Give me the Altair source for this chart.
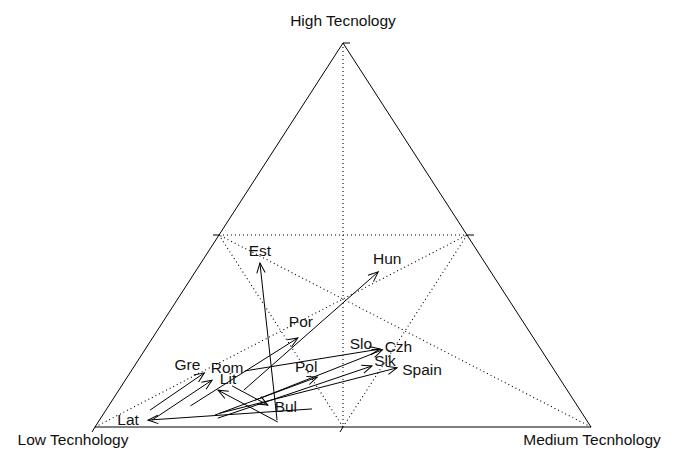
import math
import altair as alt
import pandas as pd

# ---- data: technology shares (low, medium, high) at start and end -------
countries = ["Est", "Hun", "Por", "Gre", "Rom", "Lit", "Lat", "Bul",
             "Pol", "Slo", "Czh", "Slk", "Spain"]
low_start  = [0.624, 0.652, 0.780, 0.867, 0.876, 0.625, 0.539, 0.670,
              0.743, 0.625, 0.642, 0.741, 0.730]
med_start  = [0.358, 0.252, 0.165, 0.089, 0.106, 0.362, 0.414, 0.223,
              0.226, 0.229, 0.288, 0.236, 0.234]
high_start = [0.018, 0.096, 0.055, 0.044, 0.018, 0.013, 0.047, 0.107,
              0.031, 0.146, 0.070, 0.023, 0.036]
low_end    = [0.454, 0.227, 0.475, 0.709, 0.703, 0.704, 0.884, 0.623,
              0.487, 0.324, 0.320, 0.362, 0.314]
med_end    = [0.119, 0.369, 0.293, 0.150, 0.175, 0.200, 0.098, 0.320,
              0.383, 0.473, 0.479, 0.479, 0.532]
high_end   = [0.427, 0.404, 0.232, 0.141, 0.122, 0.096, 0.018, 0.057,
              0.130, 0.203, 0.201, 0.159, 0.154]

vertex_names = ["Low Tecnhology", "Medium Tecnhology", "High Tecnology"]

# ---- layout / style ----------------------------------------------------
W, H = 496, 384
FONT = "Liberation Sans"
FS = 15.5
label_dx = [0, 9, 3, -17, 15, 10, -20, 18, -11, -19, 16, 13, 25]
label_dy = [-12, -13, -16, -8, -12, -11, 0, 2, -10, -5, -3, -5, 2]


def tern(low, med, high):
    # x along the base (Low -> Medium), y toward the High apex
    return med + high / 2.0, high


rows = []
for i, c in enumerate(countries):
    x1, y1 = tern(low_start[i], med_start[i], high_start[i])
    x2, y2 = tern(low_end[i], med_end[i], high_end[i])
    ang = math.degrees(math.atan2(-(y2 - y1) * H, (x2 - x1) * W)) % 360
    rows.append(dict(country=c, x1=x1, y1=y1, x2=x2, y2=y2, angle=ang,
                     lx=x2 + label_dx[i] / W, ly=y2 - label_dy[i] / H))
arrows = pd.DataFrame(rows)

# triangle vertices and edge midpoints
V = {"L": tern(1, 0, 0), "M": tern(0, 1, 0), "H": tern(0, 0, 1)}
mid = lambda a, b: ((V[a][0] + V[b][0]) / 2, (V[a][1] + V[b][1]) / 2)
mLH, mMH, mLM = mid("L", "H"), mid("M", "H"), mid("L", "M")

edges = pd.DataFrame([
    dict(x=V["L"][0], y=V["L"][1], x2=V["M"][0], y2=V["M"][1]),
    dict(x=V["M"][0], y=V["M"][1], x2=V["H"][0], y2=V["H"][1]),
    dict(x=V["H"][0], y=V["H"][1], x2=V["L"][0], y2=V["L"][1]),
])
grid = pd.DataFrame([
    dict(x=mLH[0], y=mLH[1], x2=mMH[0], y2=mMH[1]),
    dict(x=mMH[0], y=mMH[1], x2=mLM[0], y2=mLM[1]),
    dict(x=mLM[0], y=mLM[1], x2=mLH[0], y2=mLH[1]),
    dict(x=V["H"][0], y=V["H"][1], x2=mLM[0], y2=mLM[1]),
    dict(x=V["L"][0], y=V["L"][1], x2=mMH[0], y2=mMH[1]),
    dict(x=V["M"][0], y=V["M"][1], x2=mLH[0], y2=mLH[1]),
])
tick_pts = [(mLH, (-6, 0)), (mMH, (7, 0)), (V["H"], (7, 0)),
            (mLM, (-3, 5)), (V["L"], (-3, 5))]
ticks = pd.DataFrame([dict(x=p[0], y=p[1], x2=p[0] + d[0] / W,
                           y2=p[1] - d[1] / H) for p, d in tick_pts])
verts = pd.DataFrame([
    dict(name=vertex_names[0], x=V["L"][0], y=V["L"][1]),
    dict(name=vertex_names[1], x=V["M"][0], y=V["M"][1]),
    dict(name=vertex_names[2], x=V["H"][0], y=V["H"][1]),
])

xs = alt.Scale(domain=[0, 1], nice=False, zero=False)
ys = alt.Scale(domain=[0, 1], nice=False, zero=False)
X = lambda f: alt.X(f, type="quantitative", scale=xs, axis=None)
Y = lambda f: alt.Y(f, type="quantitative", scale=ys, axis=None)

edge_l = alt.Chart(edges).mark_rule(color="black", strokeWidth=1).encode(
    x=X("x"), y=Y("y"), x2="x2", y2="y2")
grid_l = alt.Chart(grid).mark_rule(color="black", strokeWidth=1.1,
                                   strokeDash=[1, 3]).encode(
    x=X("x"), y=Y("y"), x2="x2", y2="y2")
tick_l = alt.Chart(ticks).mark_rule(color="black", strokeWidth=1).encode(
    x=X("x"), y=Y("y"), x2="x2", y2="y2")
shaft_l = alt.Chart(arrows).mark_rule(color="black", strokeWidth=1).encode(
    x=X("x1"), y=Y("y1"), x2="x2", y2="y2")
head_l = alt.Chart(arrows).mark_point(
    shape="M -1 -0.42 L 0 0 L -1 0.42", filled=False, color="black",
    strokeWidth=1, opacity=1, size=400).encode(
    x=X("x2"), y=Y("y2"), angle=alt.Angle("angle:Q", scale=None))
lab_l = alt.Chart(arrows).mark_text(font=FONT, fontSize=FS, color="#111",
                                    baseline="middle", align="center").encode(
    x=X("lx"), y=Y("ly"), text="country:N")

vt = lambda n, dx, dy: alt.Chart(verts[verts.name == n]).mark_text(
    font=FONT, fontSize=FS, color="#111", align="center",
    baseline="alphabetic", dx=dx, dy=dy).encode(
    x=X("x"), y=Y("y"), text="name:N")

chart = alt.layer(
    grid_l, edge_l, tick_l, shaft_l, head_l, lab_l,
    vt(vertex_names[0], -22, 18), vt(vertex_names[1], 1, 18),
    vt(vertex_names[2], 0, -17),
).properties(
    width=W, height=H,
    autosize=alt.AutoSizeParams(type="none"),
    padding={"left": 87, "top": 35, "right": 76, "bottom": 21},
    background="white",
).configure_view(stroke=None)

chart.save("out.html", embed_options={"renderer": "svg", "actions": False})
